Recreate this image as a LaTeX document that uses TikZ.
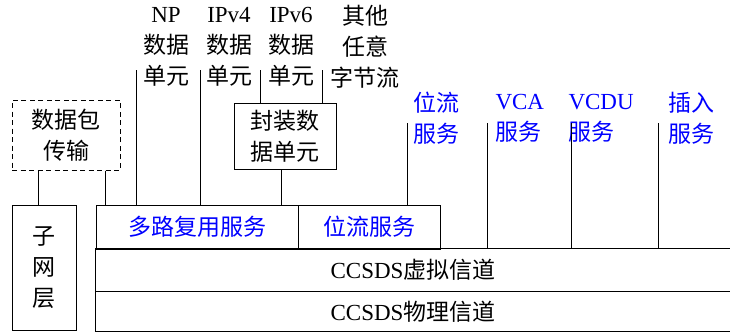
\documentclass[tikz,border=0pt]{standalone}
\usepackage{fontspec}
\setmainfont{Liberation Serif}
\newfontfamily\cjk{Noto Sans CJK SC}
\usetikzlibrary{positioning}

\tikzset{
  every node/.style={font=\fontsize{23}{31}\selectfont, inner sep=0pt, align=center},
  cj/.style={font=\fontsize{23}{31}\selectfont\cjk},
  box/.style={draw, line width=1pt},
  dashbox/.style={box, dash pattern=on 5pt off 3.5pt},
  svc/.style={text=blue, align=left, anchor=west},
  layer/.style={minimum width=634},
}

\begin{document}
\begin{tikzpicture}[x=1pt, y=-1pt, line width=1pt]
  \useasboundingbox (0,0) rectangle (730,333);

  % left side: packet transfer and subnet
  \node[dashbox, cj, minimum width=108, minimum height=70] (pkt) at (66,135) {数据包\\传输};
  \node[box, cj, minimum width=64, minimum height=125] (subnet) at (44,267.5) {子\\网\\层};

  % service row
  \node[box, cj, minimum width=202, minimum height=44, text=blue] (mux) at (197,227) {多路复用服务};
  \node[box, cj, minimum width=142, minimum height=44, text=blue] (bits) at (369,227) {位流服务};

  % CCSDS layers, open to the right
  \node[layer, minimum height=42] (vc) at (413,270) {CCSDS{\cjk 虚拟信道}};
  \node[layer, minimum height=39, below=0pt of vc] (phy) {CCSDS{\cjk 物理信道}};
  \draw (vc.north east) -- (vc.north west) -- (phy.south west) -- (phy.south east);
  \draw (vc.south west) -- (vc.south east);

  % encapsulation
  \node[box, cj, minimum width=102, minimum height=66] (enc) at (285,136) {封装数\\据单元};

  % data units on top
  \node (np)   at (166,47) {NP\\{\cjk 数据}\\{\cjk 单元}};
  \node (ipv4) at (229,47) {IPv4\\{\cjk 数据}\\{\cjk 单元}};
  \node (ipv6) at (291,47) {IPv6\\{\cjk 数据}\\{\cjk 单元}};
  \node[cj] (any) at (365,47) {其他\\任意\\字节流};

  % blue service labels
  \node[svc, cj] (bitsLbl) at (413,118) {位流\\服务};
  \node[svc] (vcaLbl)  at (495,118) {VCA\\{\cjk 服务}};
  \node[svc] (vcduLbl) at (568,118) {VCDU\\{\cjk 服务}};
  \node[svc, cj] (insLbl) at (668,118) {插入\\服务};

  % connectors
  \draw ([xshift=-28pt]pkt.south) -- ([xshift=-28pt]pkt.south |- subnet.north);
  \draw ([xshift=39pt]pkt.south) -- ([xshift=39pt]pkt.south |- mux.north);
  \draw ([xshift=-4pt]enc.south) -- ([xshift=-4pt]enc.south |- mux.north);
  \foreach \x/\t in {136/mux, 200/mux, 260/enc, 322/enc} {
    \coordinate (top\x) at (\x,70);
    \draw (top\x) -- (top\x |- \t.north);
  }
  \foreach \x/\t in {407/bits, 487/vc, 571/vc, 658/vc} {
    \coordinate (svc\x) at (\x,123);
    \draw (svc\x) -- (svc\x |- \t.north);
  }
\end{tikzpicture}
\end{document}
